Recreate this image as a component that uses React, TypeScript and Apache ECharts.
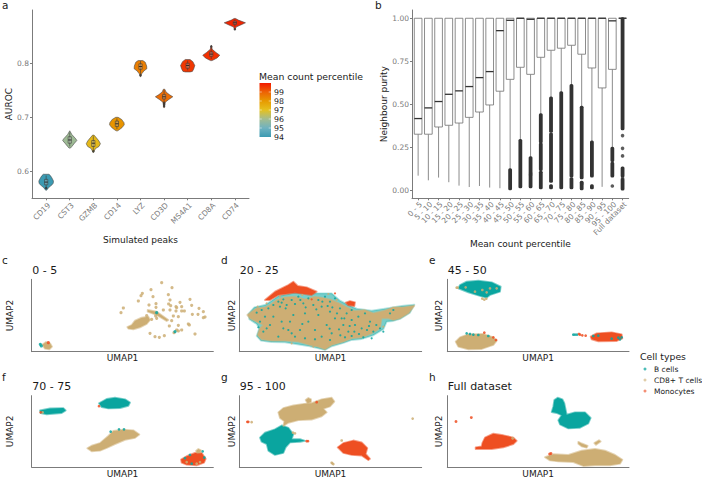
import React, { useEffect, useRef } from "react";
import * as echarts from "echarts";

const FONT = "DejaVu Sans";
const TEAL = "#0aa59f";
const TAN = "#cdae74";
const ORANGE = "#ee4f22";

// ---------- panel a ----------
const peaks = ["CD19", "CST3", "GZMB", "CD14", "LYZ", "CD3D", "MS4A1", "CD8A", "CD74"];
const peakPercentile = [94.0, 95.9, 97.2, 98.1, 98.5, 98.8, 99.6, 99.7, 99.85];
// [AUROC, half width in category units], top to bottom
const violinShapes = [
  [[0.5945, 0.12], [0.592, 0.18], [0.588, 0.24], [0.582, 0.31], [0.578, 0.3], [0.575, 0.25], [0.57, 0.11], [0.565, 0.02]],
  [[0.675, 0.0], [0.668, 0.09], [0.66, 0.26], [0.657, 0.3], [0.652, 0.2], [0.646, 0.09], [0.643, 0.03]],
  [[0.667, 0.03], [0.662, 0.13], [0.656, 0.24], [0.651, 0.3], [0.646, 0.24], [0.642, 0.09], [0.635, 0.01]],
  [[0.7, 0.05], [0.696, 0.2], [0.69, 0.3], [0.686, 0.31], [0.681, 0.22], [0.677, 0.1], [0.675, 0.03]],
  [[0.805, 0.1], [0.802, 0.2], [0.795, 0.26], [0.79, 0.27], [0.786, 0.15], [0.78, 0.04], [0.775, 0.01]],
  [[0.752, 0.03], [0.747, 0.08], [0.742, 0.22], [0.738, 0.37], [0.733, 0.2], [0.728, 0.05], [0.722, 0.02], [0.718, 0.02]],
  [[0.807, 0.1], [0.803, 0.22], [0.796, 0.3], [0.79, 0.26], [0.785, 0.2], [0.784, 0.1]],
  [[0.833, 0.01], [0.826, 0.04], [0.82, 0.2], [0.815, 0.36], [0.81, 0.25], [0.806, 0.08], [0.805, 0.03]],
  [[0.883, 0.03], [0.88, 0.15], [0.875, 0.45], [0.871, 0.25], [0.867, 0.05], [0.862, 0.01]],
];
// [low, q1, median, q3, high]
const violinBoxes = [
  [0.568, 0.575, 0.58, 0.585, 0.592],
  [0.646, 0.652, 0.658, 0.664, 0.672],
  [0.638, 0.646, 0.652, 0.657, 0.665],
  [0.678, 0.683, 0.688, 0.693, 0.698],
  [0.78, 0.789, 0.794, 0.799, 0.804],
  [0.728, 0.734, 0.738, 0.742, 0.75],
  [0.787, 0.791, 0.796, 0.8, 0.805],
  [0.808, 0.813, 0.817, 0.821, 0.828],
  [0.868, 0.872, 0.875, 0.878, 0.881],
];
const violinOutliers = [
  [6, 0.727], [6, 0.724], [6, 0.721], [8, 0.831], [9, 0.863], [5, 0.778], [3, 0.637], [1, 0.569],
];
const percentileTicks = [99, 98, 97, 96, 95, 94];
const percentileStops = ["#3B9AB2", "#6FB2C0", "#A3BC90", "#E5C11F", "#E79A00", "#ED6205", "#F21A00"];

// ---------- panel b ----------
const purityBins = [
  "0 - 5", "5 - 10", "10 - 15", "15 - 20", "20 - 25", "25 - 30", "30 - 35", "35 - 40", "40 - 45", "45 - 50",
  "50 - 55", "55 - 60", "60 - 65", "65 - 70", "70 - 75", "75 - 80", "80 - 85", "85 - 90", "90 - 95", "95 - 100",
  "Full dataset",
];
const purityLow = [0.085, 0.058, 0.074, 0.047, 0.027, 0.019, 0.025, 0.016, 0.012, 0.122, 0.293, 0.192, 0.442, 0.539, 0.57, 0.612, 0.486, 0.283, 0.02, 0.248, 1];
const purityQ1 = [0.326, 0.326, 0.368, 0.378, 0.391, 0.424, 0.455, 0.496, 0.576, 0.645, 0.715, 0.674, 0.773, 0.814, 0.826, 0.843, 0.791, 0.711, 0.595, 0.703, 1];
const purityMedian = [0.417, 0.479, 0.516, 0.558, 0.578, 0.603, 0.655, 0.69, 0.928, 0.988, 1, 0.994, 1, 1, 1, 1, 1, 1, 1, 0.985, 1];
// dense stretches of outliers: [bin number, from, to]
const outlierRuns = [
  [10, 0.006, 0.122], [11, 0.018, 0.293], [12, 0.018, 0.1], [12, 0.1, 0.192],
  [13, 0.012, 0.108], [13, 0.118, 0.272], [13, 0.28, 0.442],
  [14, 0.05, 0.33], [14, 0.34, 0.539], [14, 0.012, 0.03],
  [15, 0.012, 0.57], [16, 0.08, 0.612], [16, 0.012, 0.07],
  [17, 0.07, 0.486], [17, 0.006, 0.05], [18, 0.08, 0.283], [18, 0.012, 0.03],
  [20, 0.17, 0.248], [20, 0.08, 0.16],
  [21, 0.355, 1], [21, 0.08, 0.132], [21, 0.005, 0.065],
];
const outlierDots = [
  [20, 0.025], [21, 0.318], [21, 0.244], [21, 0.2], [21, 0.07], [17, 0.038], [12, 0.09],
];
const purityTicks = [0, 0.25, 0.5, 0.75, 1];

// ---------- panels c-h: outlines and dots, in picture-scale UMAP units ----------
const cTanBlobs = [
  [[382, 231], [395, 225], [405, 212], [425, 203], [445, 200], [450, 210], [440, 222], [420, 232], [400, 238], [385, 236]],
  [[443, 180], [470, 185], [505, 210], [500, 213], [470, 195], [443, 185]],
  [[127, 284], [138, 276], [150, 280], [156, 290], [148, 298], [135, 296]],
];
const cTealDots = [[121, 283], [124, 288], [525, 245], [470, 188]];
const cOrangeDots = [[145, 278]];
const cTanDots = [
  [485, 98], [516, 113], [453, 119], [427, 130], [423, 137], [459, 140], [505, 134], [415, 153], [510, 150], [570, 148],
  [540, 157], [447, 165], [468, 161], [506, 162], [512, 167], [528, 170], [545, 170], [575, 166], [370, 174], [363, 188],
  [468, 172], [490, 180], [510, 180], [528, 183], [545, 183], [553, 183], [530, 173], [597, 175], [610, 185], [594, 193],
  [577, 193], [615, 201], [610, 203], [520, 198], [535, 200], [467, 198], [455, 208], [515, 212], [508, 228], [535, 226],
  [565, 222], [568, 225], [530, 240], [545, 240], [535, 243], [522, 248], [450, 250], [465, 260], [478, 262], [493, 257],
  [585, 252], [470, 205], [440, 197],
];

const dTealBlobs = [
  [[100, 192], [118, 172], [150, 165], [165, 155], [190, 138], [240, 128], [300, 130], [350, 130], [375, 152], [400, 165], [425, 176], [470, 182], [510, 176], [560, 168], [598, 164], [585, 188], [555, 207], [535, 213], [515, 215], [505, 238], [475, 256], [440, 267], [410, 270], [385, 279], [350, 289], [330, 300], [285, 289], [210, 277], [170, 276], [138, 272], [125, 258], [133, 235], [125, 222], [103, 208]],
];
const dOrangeBlobs = [
  [[150, 150], [180, 125], [220, 105], [235, 95], [248, 108], [275, 112], [305, 125], [290, 135], [240, 128], [190, 135], [165, 150]],
  [[392, 158], [405, 153], [420, 157], [418, 168], [400, 166]],
];
const dTanBlobs = [
  [[97, 195], [110, 185], [125, 175], [150, 172], [165, 165], [185, 150], [210, 142], [240, 140], [270, 148], [300, 140], [330, 145], [350, 150], [372, 160], [395, 172], [420, 183], [450, 180], [475, 190], [505, 183], [535, 172], [565, 172], [598, 167], [580, 190], [555, 205], [535, 210], [520, 205], [500, 205], [495, 235], [470, 250], [440, 262], [410, 265], [385, 275], [350, 285], [330, 298], [310, 290], [285, 285], [250, 275], [210, 272], [170, 272], [140, 268], [128, 255], [135, 235], [145, 225], [125, 215], [105, 205]],
];
const dTealDots = [
  [140, 180], [125, 188], [160, 175], [175, 165], [190, 155], [205, 148], [215, 165], [230, 150], [250, 140], [265, 160],
  [280, 145], [295, 165], [310, 150], [330, 140], [345, 155], [360, 145], [375, 175], [395, 190], [410, 180], [430, 200],
  [450, 190], [465, 215], [440, 235], [420, 225], [400, 245], [385, 225], [360, 205], [335, 225], [350, 250], [320, 260],
  [300, 240], [280, 215], [255, 240], [230, 250], [205, 235], [190, 260], [165, 225], [135, 215], [145, 245], [175, 200],
  [235, 195], [270, 190], [310, 195], [345, 185], [380, 205], [410, 258], [445, 262], [475, 245], [495, 235], [505, 245],
  [345, 270], [270, 265], [225, 215], [525, 190], [535, 180], [410, 210], [470, 265], [320, 170],
  [200, 158], [212, 175], [195, 170], [240, 162], [256, 150], [272, 172], [304, 178], [322, 155], [338, 168], [352, 172],
  [366, 190], [388, 205], [404, 228], [418, 245], [432, 252], [456, 240], [484, 225], [462, 228], [372, 238], [344, 236],
  [220, 240], [240, 260], [200, 215], [150, 200], [130, 232], [155, 235], [390, 262], [376, 256], [300, 268], [262, 222],
];
const dTanDots = [[128, 170], [155, 160], [195, 140], [262, 135], [340, 132], [365, 150], [540, 205], [505, 230], [230, 280], [295, 290]];
const dOrangeDots = [[290, 148], [360, 130]];

const eTealBlobs = [
  [[105, 105], [125, 95], [160, 92], [200, 97], [227, 110], [225, 125], [195, 135], [185, 143], [165, 138], [130, 127], [100, 115]],
];
const eTanBlobs = [
  [[92, 275], [105, 262], [130, 253], [175, 252], [205, 262], [215, 272], [205, 285], [170, 297], [130, 298], [100, 290]],
];
const eOrangeBlobs = [
  [[497, 260], [515, 250], [560, 247], [590, 253], [592, 265], [575, 273], [520, 274], [500, 268]],
];
const eTanDots = [[150, 125], [172, 120], [185, 127], [195, 115], [215, 115], [122, 112], [95, 113], [98, 113], [172, 146], [178, 149], [184, 146]];
const eTealDots = [[125, 250], [135, 252], [145, 254], [160, 255], [190, 258], [505, 258], [520, 257], [560, 266], [580, 263], [590, 262], [585, 268], [445, 254], [450, 254], [456, 254]];
const eOrangeDots = [[178, 248], [205, 262], [213, 270], [465, 254], [472, 256], [482, 257], [462, 252]];

const fTealBlobs = [
  [[120, 482], [150, 476], [190, 475], [197, 482], [185, 490], [140, 494], [122, 490]],
  [[297, 460], [320, 447], [345, 443], [375, 448], [390, 458], [385, 468], [360, 475], [325, 476], [305, 472]],
];
const fTanBlobs = [
  [[262, 598], [275, 590], [300, 582], [325, 560], [340, 545], [370, 541], [400, 543], [418, 556], [405, 566], [375, 572], [345, 585], [320, 597], [300, 605], [275, 607]],
  [[588, 606], [595, 600], [603, 604], [601, 611], [592, 612]],
];
const fOrangeBlobs = [
  [[543, 632], [560, 622], [585, 612], [605, 612], [617, 630], [612, 642], [590, 650], [560, 648], [545, 642]],
];
const fTealDots = [[357, 540], [372, 540], [332, 547], [608, 607], [570, 618], [575, 645], [613, 626], [555, 628]];
const fOrangeDots = [[122, 488], [297, 469]];
const fTanDots = [[128, 488], [590, 645], [560, 640], [600, 640]];

const gTanBlobs = [
  [[190, 488], [205, 475], [235, 467], [268, 462], [290, 460], [320, 448], [350, 443], [358, 455], [345, 470], [325, 477], [335, 488], [320, 500], [290, 510], [250, 512], [220, 520], [205, 530], [208, 515], [195, 505]],
  [[272, 450], [280, 444], [288, 448], [288, 456], [278, 460]],
];
const gTealBlobs = [
  [[135, 565], [150, 550], [180, 540], [200, 528], [220, 535], [235, 555], [230, 570], [255, 570], [270, 575], [255, 578], [225, 580], [212, 595], [205, 612], [180, 618], [160, 605], [155, 585], [140, 578]],
];
const gOrangeBlobs = [
  [[368, 595], [385, 582], [415, 574], [440, 580], [457, 597], [452, 615], [465, 630], [460, 634], [440, 620], [410, 618], [385, 612]],
];
const gTanDots = [[234, 550], [240, 552], [352, 644], [350, 642], [355, 646], [110, 518], [593, 507], [380, 574]];
const gOrangeDots = [[305, 457], [275, 576], [279, 576], [100, 517], [97, 517]];

const hTealBlobs = [
  [[388, 450], [398, 443], [412, 448], [418, 460], [422, 480], [425, 495], [450, 488], [480, 488], [497, 505], [490, 522], [465, 535], [430, 537], [405, 525], [400, 512], [410, 497], [395, 490], [380, 487], [385, 470]],
];
const hOrangeBlobs = [
  [[172, 582], [180, 565], [205, 553], [235, 558], [265, 565], [275, 575], [265, 585], [235, 595], [200, 600], [170, 600], [152, 600], [152, 595], [170, 592]],
];
const hTanBlobs = [
  [[360, 625], [385, 616], [430, 618], [470, 605], [510, 600], [540, 605], [570, 618], [592, 633], [585, 645], [555, 650], [510, 650], [475, 652], [445, 640], [400, 638], [375, 635]],
  [[460, 578], [470, 583], [488, 590], [485, 596], [470, 592], [460, 584]],
  [[508, 582], [522, 573], [527, 577], [513, 587]],
];
const hOrangeDots = [[93, 516], [139, 504], [378, 614], [374, 615]];
const hTanDots = [[263, 567]];

const cellTypes = ["B cells", "CD8+ T cells", "Monocytes"];

const PANEL_ROW = [
  { top: 279.33, h: 72.33 },
  { top: 395.67, h: 72.67 },
];
const PANEL_COL = [
  { left: 31.67, w: 181.67, gap: 17, letter: 2 },
  { left: 239.33, w: 182.33, gap: 3, letter: 221 },
  { left: 447.33, w: 181.67, gap: 4, letter: 429 },
];

const panels = [
  { letter: "c", title: "0 - 5", r: 0, c: 0, x: [95, 640], y: [88, 305], teal: [], tan: cTanBlobs, orange: [], tealDots: cTealDots, tanDots: cTanDots, orangeDots: cOrangeDots, speck: 3.2 },
  { letter: "d", title: "20 - 25", r: 0, c: 1, x: [73, 620], y: [88, 305], teal: dTealBlobs, tan: dTanBlobs, orange: dOrangeBlobs, tealDots: dTealDots, tanDots: dTanDots, orangeDots: dOrangeDots, speck: 2.2 },
  { letter: "e", title: "45 - 50", r: 0, c: 2, x: [67, 612], y: [88, 305], teal: eTealBlobs, tan: eTanBlobs, orange: eOrangeBlobs, tealDots: eTealDots, tanDots: eTanDots, orangeDots: eOrangeDots, speck: 2.7 },
  { letter: "f", title: "70 - 75", r: 1, c: 0, x: [95, 640], y: [437, 655], teal: fTealBlobs, tan: fTanBlobs, orange: fOrangeBlobs, tealDots: fTealDots, tanDots: fTanDots, orangeDots: fOrangeDots, speck: 2.7 },
  { letter: "g", title: "95 - 100", r: 1, c: 1, x: [73, 620], y: [437, 655], teal: gTealBlobs, tan: gTanBlobs, orange: gOrangeBlobs, tealDots: [], tanDots: gTanDots, orangeDots: gOrangeDots, speck: 2.7 },
  { letter: "h", title: "Full dataset", r: 1, c: 2, x: [67, 612], y: [437, 655], teal: hTealBlobs, tan: hTanBlobs, orange: hOrangeBlobs, tealDots: [], tanDots: hTanDots, orangeDots: hOrangeDots, speck: 2.9 },
];

const AXIS_GREY = "#7b7b7b";
const LABEL_GREY = "#7a7a7a";
const DARK = "#333333";

function txt(text: string, x: number, y: number, fontSize: number, fill = "#1a1a1a") {
  return {
    type: "text",
    x,
    y,
    silent: true,
    style: { text, fontSize, fontFamily: FONT, fill, align: "left", verticalAlign: "middle" },
  };
}

function buildOption() {
  const grid: any[] = [
    { left: 32, top: 10, width: 217, height: 188.3 },
    { left: 412, top: 10, width: 216.7, height: 188.3 },
  ];
  const axisBase = {
    axisLine: { onZero: false, lineStyle: { color: AXIS_GREY, width: 1 } },
    splitLine: { show: false },
  };
  const nameStyle = { fontFamily: FONT, fontSize: 9, color: "#1a1a1a" };
  const xAxis: any[] = [
    {
      ...axisBase,
      type: "value",
      gridIndex: 0,
      min: 0.4,
      max: 9.6,
      name: "Simulated peaks",
      nameLocation: "middle",
      nameGap: 37,
      nameTextStyle: nameStyle,
      axisTick: { show: true, length: 2, lineStyle: { color: AXIS_GREY }, customValues: peaks.map((_, i) => i + 1) },
      axisLabel: {
        customValues: peaks.map((_, i) => i + 1),
        formatter: (v: number) => peaks[Math.round(v) - 1],
        rotate: 45,
        verticalAlign: "top",
        showMinLabel: true,
        showMaxLabel: true,
        hideOverlap: false,
        fontFamily: FONT,
        fontSize: 7.5,
        color: LABEL_GREY,
        margin: 3,
      },
    },
    {
      ...axisBase,
      type: "value",
      gridIndex: 1,
      min: 0.4,
      max: 21.6,
      name: "Mean count percentile",
      nameLocation: "middle",
      nameGap: 39.5,
      nameTextStyle: nameStyle,
      axisTick: { show: true, length: 2, lineStyle: { color: AXIS_GREY }, customValues: purityBins.map((_, i) => i + 1) },
      axisLabel: {
        // blank end entries keep the library's min/max overlap check away from the real labels
        customValues: [0.4, ...purityBins.map((_, i) => i + 1), 21.6],
        formatter: (v: number) => purityBins[Math.round(v) - 1] ?? "",
        rotate: 45,
        verticalAlign: "top",
        hideOverlap: false,
        fontFamily: FONT,
        fontSize: 7.5,
        color: LABEL_GREY,
        margin: 2,
      },
    },
  ];
  const yAxis: any[] = [
    {
      ...axisBase,
      type: "value",
      gridIndex: 0,
      min: 0.55,
      max: 0.8987,
      name: "AUROC",
      nameLocation: "middle",
      nameGap: 16,
      nameTextStyle: nameStyle,
      axisTick: { show: true, length: 2, lineStyle: { color: AXIS_GREY }, customValues: [0.6, 0.7, 0.8] },
      axisLabel: {
        customValues: [0.6, 0.7, 0.8],
        formatter: (v: number) => v.toFixed(1),
        fontFamily: FONT,
        fontSize: 7.5,
        color: LABEL_GREY,
        margin: 3,
      },
    },
    {
      ...axisBase,
      type: "value",
      gridIndex: 1,
      min: -0.0465,
      max: 1.048,
      name: "Neighbour purity",
      nameLocation: "middle",
      nameGap: 21,
      nameTextStyle: nameStyle,
      axisTick: { show: true, length: 2, lineStyle: { color: AXIS_GREY }, customValues: purityTicks },
      axisLabel: {
        customValues: purityTicks,
        formatter: (v: number) => v.toFixed(2),
        fontFamily: FONT,
        fontSize: 7.5,
        color: LABEL_GREY,
        margin: 3,
      },
    },
  ];

  const series: any[] = [];

  // violins
  series.push({
    type: "custom",
    xAxisIndex: 0,
    yAxisIndex: 0,
    data: peaks.map((_, i) => [i + 1, peakPercentile[i]]),
    encode: { x: 0, y: -1 },
    renderItem: (params: any, api: any) => {
      const i = params.dataIndex;
      const xc = api.value(0);
      const shape = violinShapes[i];
      const pts: number[][] = [];
      shape.forEach((p) => pts.push(api.coord([xc + p[1], p[0]])));
      [...shape].reverse().forEach((p) => pts.push(api.coord([xc - p[1], p[0]])));
      const [low, q1, med, q3, high] = violinBoxes[i];
      const pxC = api.coord([xc, med])[0];
      const yLow = api.coord([xc, low])[1];
      const yQ1 = api.coord([xc, q1])[1];
      const yMed = api.coord([xc, med])[1];
      const yQ3 = api.coord([xc, q3])[1];
      const yHigh = api.coord([xc, high])[1];
      const lineStyle = { stroke: "#3a3a3a", lineWidth: 0.6, fill: "none" };
      return {
        type: "group",
        children: [
          {
            type: "polygon",
            shape: { points: pts },
            style: { fill: api.visual("color"), stroke: "#4a4a4a", lineWidth: 0.6, lineJoin: "round" },
          },
          { type: "line", shape: { x1: pxC, y1: yLow, x2: pxC, y2: yHigh }, style: lineStyle },
          { type: "rect", shape: { x: pxC - 1.6, y: yQ3, width: 3.2, height: yQ1 - yQ3 }, style: { fill: "rgba(255,255,255,0.25)", stroke: "#3a3a3a", lineWidth: 0.6 } },
          { type: "line", shape: { x1: pxC - 1.6, y1: yMed, x2: pxC + 1.6, y2: yMed }, style: { stroke: "#222", lineWidth: 0.9 } },
        ],
      };
    },
  });
  series.push({
    type: "scatter",
    xAxisIndex: 0,
    yAxisIndex: 0,
    symbolSize: 2.5,
    itemStyle: { color: DARK },
    data: violinOutliers,
  });

  // boxes
  series.push({
    type: "custom",
    xAxisIndex: 1,
    yAxisIndex: 1,
    data: purityBins.map((_, i) => [i + 1, purityLow[i], purityQ1[i], purityMedian[i], 1]),
    encode: { x: 0, y: -1 },
    renderItem: (_p: any, api: any) => {
      const xc = api.value(0);
      const low = api.coord([xc, api.value(1)]);
      const q1 = api.coord([xc, api.value(2)]);
      const med = api.coord([xc, api.value(3)]);
      const q3 = api.coord([xc, api.value(4)]);
      const w = api.size([0.75, 0])[0];
      const grey = { stroke: "#6f6f6f", lineWidth: 0.8, fill: "none" };
      return {
        type: "group",
        children: [
          { type: "line", shape: { x1: low[0], y1: low[1], x2: low[0], y2: q1[1] }, style: grey },
          { type: "rect", shape: { x: low[0] - w / 2, y: q3[1], width: w, height: q1[1] - q3[1] }, style: { fill: "#fff", stroke: "#6f6f6f", lineWidth: 0.8 } },
          { type: "line", shape: { x1: low[0] - w / 2, y1: med[1], x2: low[0] + w / 2, y2: med[1] }, style: { stroke: "#333", lineWidth: 1.3 } },
        ],
      };
    },
  });
  // dense outliers
  series.push({
    type: "custom",
    xAxisIndex: 1,
    yAxisIndex: 1,
    data: outlierRuns,
    encode: { x: 0, y: [1, 2] },
    renderItem: (_p: any, api: any) => {
      const a = api.coord([api.value(0), api.value(1)]);
      const b = api.coord([api.value(0), api.value(2)]);
      return {
        type: "rect",
        shape: { x: a[0] - 1.9, y: b[1] - 1, width: 3.8, height: a[1] - b[1] + 2, r: 1.5 },
        style: { fill: DARK },
      };
    },
  });
  series.push({
    type: "scatter",
    xAxisIndex: 1,
    yAxisIndex: 1,
    symbolSize: 3.6,
    itemStyle: { color: DARK },
    data: outlierDots,
  });

  // UMAP panels
  const graphicEls: any[] = [];
  panels.forEach((p, idx) => {
    const row = PANEL_ROW[p.r];
    const col = PANEL_COL[p.c];
    const ax = idx + 2;
    grid.push({ left: col.left, top: row.top, width: col.w, height: row.h });
    xAxis.push({
      ...axisBase,
      type: "value",
      gridIndex: ax,
      min: p.x[0],
      max: p.x[1],
      name: "UMAP1",
      nameLocation: "middle",
      nameGap: 2,
      nameTextStyle: { ...nameStyle, verticalAlign: "top" },
      axisTick: { show: false },
      axisLabel: { show: false },
    });
    yAxis.push({
      ...axisBase,
      type: "value",
      gridIndex: ax,
      inverse: true,
      min: p.y[0],
      max: p.y[1],
      name: "UMAP2",
      nameLocation: "middle",
      nameGap: col.gap,
      nameTextStyle: nameStyle,
      axisTick: { show: false },
      axisLabel: { show: false },
    });
    const layers: { blobs: number[][][]; color: string; alpha: number }[] = [
      { blobs: p.teal, color: TEAL, alpha: p.letter === "d" ? 0.55 : 1 },
      { blobs: p.orange, color: ORANGE, alpha: 1 },
      { blobs: p.tan, color: TAN, alpha: 1 },
    ];
    layers.forEach((l) => {
      if (!l.blobs.length) return;
      series.push({
        type: "custom",
        xAxisIndex: ax,
        yAxisIndex: ax,
        data: l.blobs.map((_, i) => [i]),
        encode: { x: -1, y: -1 },
        renderItem: (params: any, api: any) => ({
          type: "polygon",
          shape: { points: l.blobs[params.dataIndex].map((q) => api.coord(q)) },
          style: { fill: l.color, opacity: l.alpha, stroke: l.color, strokeOpacity: 0.55, lineWidth: 1.8, lineJoin: "round" },
        }),
      });
    });
    const dotLayers: [number[][], string][] = [
      [p.tanDots, TAN],
      [p.tealDots, TEAL],
      [p.orangeDots, ORANGE],
    ];
    dotLayers.forEach(([d, color]) => {
      if (!d.length) return;
      series.push({
        type: "scatter",
        xAxisIndex: ax,
        yAxisIndex: ax,
        symbolSize: p.speck,
        itemStyle: { color, opacity: 0.85 },
        data: d,
      });
    });
    graphicEls.push(txt(p.letter, col.letter, p.r === 0 ? 260 : 376.5, 10.5));
    graphicEls.push(txt(p.title, col.left + 0.5, row.top - 9, 11));
  });

  // panel letters, legends
  graphicEls.push(txt("a", 2, 5, 10.5));
  graphicEls.push(txt("b", 375, 5, 10.5));
  graphicEls.push(txt("Mean count percentile", 259, 76, 9.3));
  graphicEls.push({
    type: "rect",
    shape: { x: 259.5, y: 83, width: 11.5, height: 54 },
    style: {
      fill: new echarts.graphic.LinearGradient(
        0,
        1,
        0,
        0,
        percentileStops.map((color, i) => ({ offset: i / (percentileStops.length - 1), color }))
      ),
    },
  });
  percentileTicks.forEach((t) => {
    const y = 137 - (t - 94) * 9;
    graphicEls.push(txt(String(t), 274, y, 7.8));
    if (t !== 94) {
      graphicEls.push({ type: "line", shape: { x1: 259.5, y1: y, x2: 261.8, y2: y }, style: { stroke: "#fff", lineWidth: 0.5 } });
      graphicEls.push({ type: "line", shape: { x1: 268.7, y1: y, x2: 271, y2: y }, style: { stroke: "#fff", lineWidth: 0.5 } });
    }
  });
  graphicEls.push(txt("Cell types", 640, 356, 9.3));
  const legendFill = ["#4dbdb8", "#e0cda9", "#f48f75"];
  cellTypes.forEach((name, i) => {
    const y = 369 + i * 11;
    graphicEls.push({ type: "circle", shape: { cx: 645, cy: y, r: 1.5 }, style: { fill: legendFill[i] } });
    graphicEls.push(txt(name, 654, y, 7.5));
  });

  return {
    animation: false,
    backgroundColor: "#ffffff",
    textStyle: { fontFamily: FONT },
    visualMap: {
      show: false,
      type: "continuous",
      min: 94,
      max: 100,
      dimension: 1,
      seriesIndex: 0,
      inRange: { color: percentileStops },
    },
    grid,
    xAxis,
    yAxis,
    series,
    graphic: { elements: graphicEls },
  };
}

export default function App() {
  const ref = useRef<HTMLDivElement>(null);
  useEffect(() => {
    if (!ref.current) return;
    const chart = echarts.init(ref.current, undefined, { renderer: "svg" });
    chart.setOption(buildOption() as any);
    return () => chart.dispose();
  }, []);
  return <div ref={ref} style={{ position: "absolute", left: 0, top: 0, width: 702, height: 479 }} />;
}
